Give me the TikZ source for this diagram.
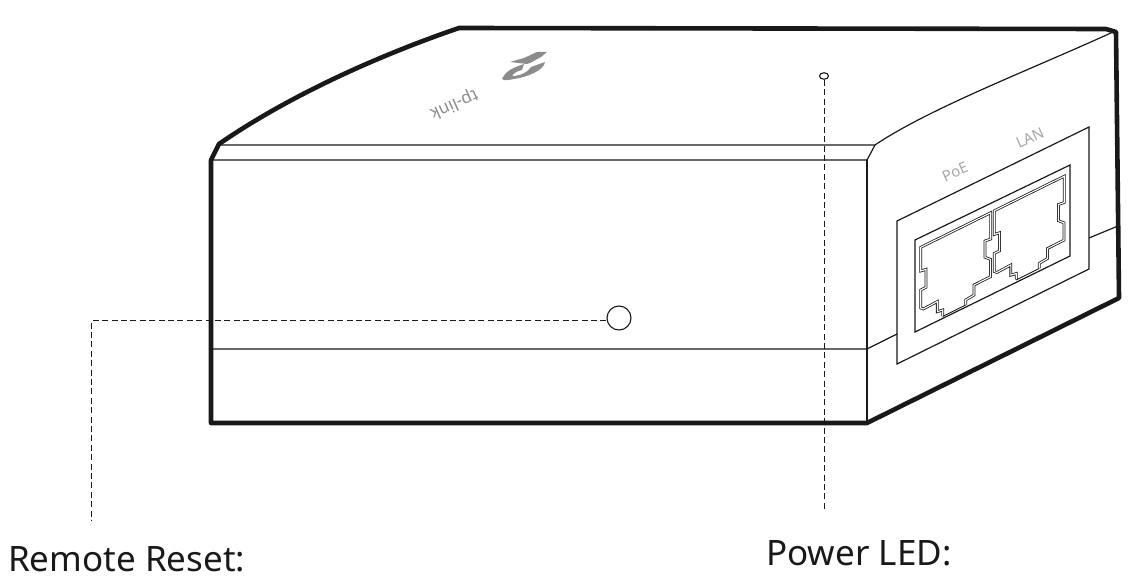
\documentclass[tikz,border=0pt]{standalone}
\usepackage{fontspec}
\setmainfont{Noto Sans}
\usetikzlibrary{positioning, shapes.geometric}
\definecolor{inkgray}{gray}{0.1}
\definecolor{printgray}{gray}{0.65}
\definecolor{logogray}{gray}{0.55}

\begin{document}
\begin{tikzpicture}[x=1pt, y=-1pt]
    \tikzstyle{thinline} = [draw=inkgray, line width=1.2pt, line join=miter]
    \tikzstyle{heavyline} = [draw=inkgray, line width=4.6pt, line join=round]
    \tikzstyle{portline} = [draw=inkgray, line width=0.8pt, double=white, double distance=1.1pt, line join=miter]
    \tikzstyle{leader} = [draw=inkgray, line width=1pt, dash pattern=on 6pt off 3.4pt]
    \tikzstyle{callout} = [anchor=base west, inner sep=0pt, text=inkgray, font=\fontsize{35}{40}\selectfont]
    \tikzstyle{printing} = [inner sep=0pt, text=printgray, font=\fontsize{15}{18}\selectfont, rotate=24]
    \useasboundingbox (0,0) rectangle (1138,577);

    % housing
    \path [thinline] (219,145) -- (875,145) -- (867,160) -- (211,160);
    \path [thinline] (867,160) -- (867,423);
    \path [thinline] (211,349) -- (867,349) -- (897,334);
    \path [thinline] (875,145) .. controls (930,108) and (1030,70) .. (1113,32);
    \path [thinline] (1089,238) -- (1118,226);

    % port panel
    \path [thinline] (897,221) -- (1089,127) -- (1089,269) -- (897,364) -- cycle;
    \path [thinline] (915,240) -- (1070,165) -- (1070,256) -- (915,332) -- cycle;

    % ports
    \foreach \px/\py in {0/0, 73.5/-36.5} {
        \begin{scope}[shift={(\px,\py)}]
            \path [portline] (942.7,316.2) -- (942.7,310) -- (937.3,311.7) -- (937.3,301.5)
                -- (923.3,309) -- (920.7,308) -- (920.7,290) -- (926,287.3) -- (926,269.3)
                -- (920.7,271) -- (920.7,247.3) -- (990.7,212.7) -- (990.7,239) -- (985,241)
                -- (985,257.3) -- (990.5,259.3) -- (990.5,276.7) -- (974,285) -- (974,295)
                -- (965.7,300) -- (965.7,305);
            \path [thinline, line width=0.9pt] (942.7,316.5) -- (965.7,305);
        \end{scope}
    }

    % outline on top
    \path [heavyline] (211,423) -- (211,160) -- (219,144)
        .. controls (290,95) and (380,55) .. (459,28) -- (1106,29) -- (1116,32)
        -- (1119,298) -- (867,423) -- cycle;

    % logo
    \fill [logogray] (510,62) -- (524,58) -- (537,52) -- (547,52) -- (541,57) -- (530,63) -- (527,64) -- cycle;
    \fill [logogray] (502,79) .. controls (506,70) and (515,67) .. (524,64) -- (522,70)
        .. controls (517,71) and (514,73) .. (512,76) .. controls (520,76) and (528,72) .. (531,67)
        -- (545,62) .. controls (544,70) and (528,77) .. (514,79) .. controls (509,80) and (504,81) .. (502,79) -- cycle;
    \node [inner sep=0pt, text=logogray, rotate=204, font=\fontsize{17}{20}\selectfont\bfseries] (logotext) at (454,104) {tp-link};

    % ports labels
    \node [printing] (poelabel) at (955,172) {PoE};
    \node [printing] (lanlabel) at (1030,138) {LAN};

    % reset and led
    \node [draw=inkgray, line width=1.1pt, circle, minimum size=24pt, inner sep=0pt] (resetbutton) at (619,318) {};
    \node [draw=inkgray, line width=1.1pt, ellipse, minimum width=9pt, minimum height=6.5pt, inner sep=0pt] (powerled) at (824,76) {};

    % labels
    \node [callout] (resetlabel) at (8,571) {Remote Reset:};
    \node [callout] (ledlabel) at (766,565) {Power LED:};

    % leaders
    \coordinate (resetbend) at (91,321);
    \coordinate (resetend) at (91,520);
    \coordinate (ledend) at (824,512);
    \path [leader] (resetbutton.west |- resetbend) -- (resetbend) -- (resetend);
    \path [leader] (powerled.south) -- (ledend);
\end{tikzpicture}
\end{document}
